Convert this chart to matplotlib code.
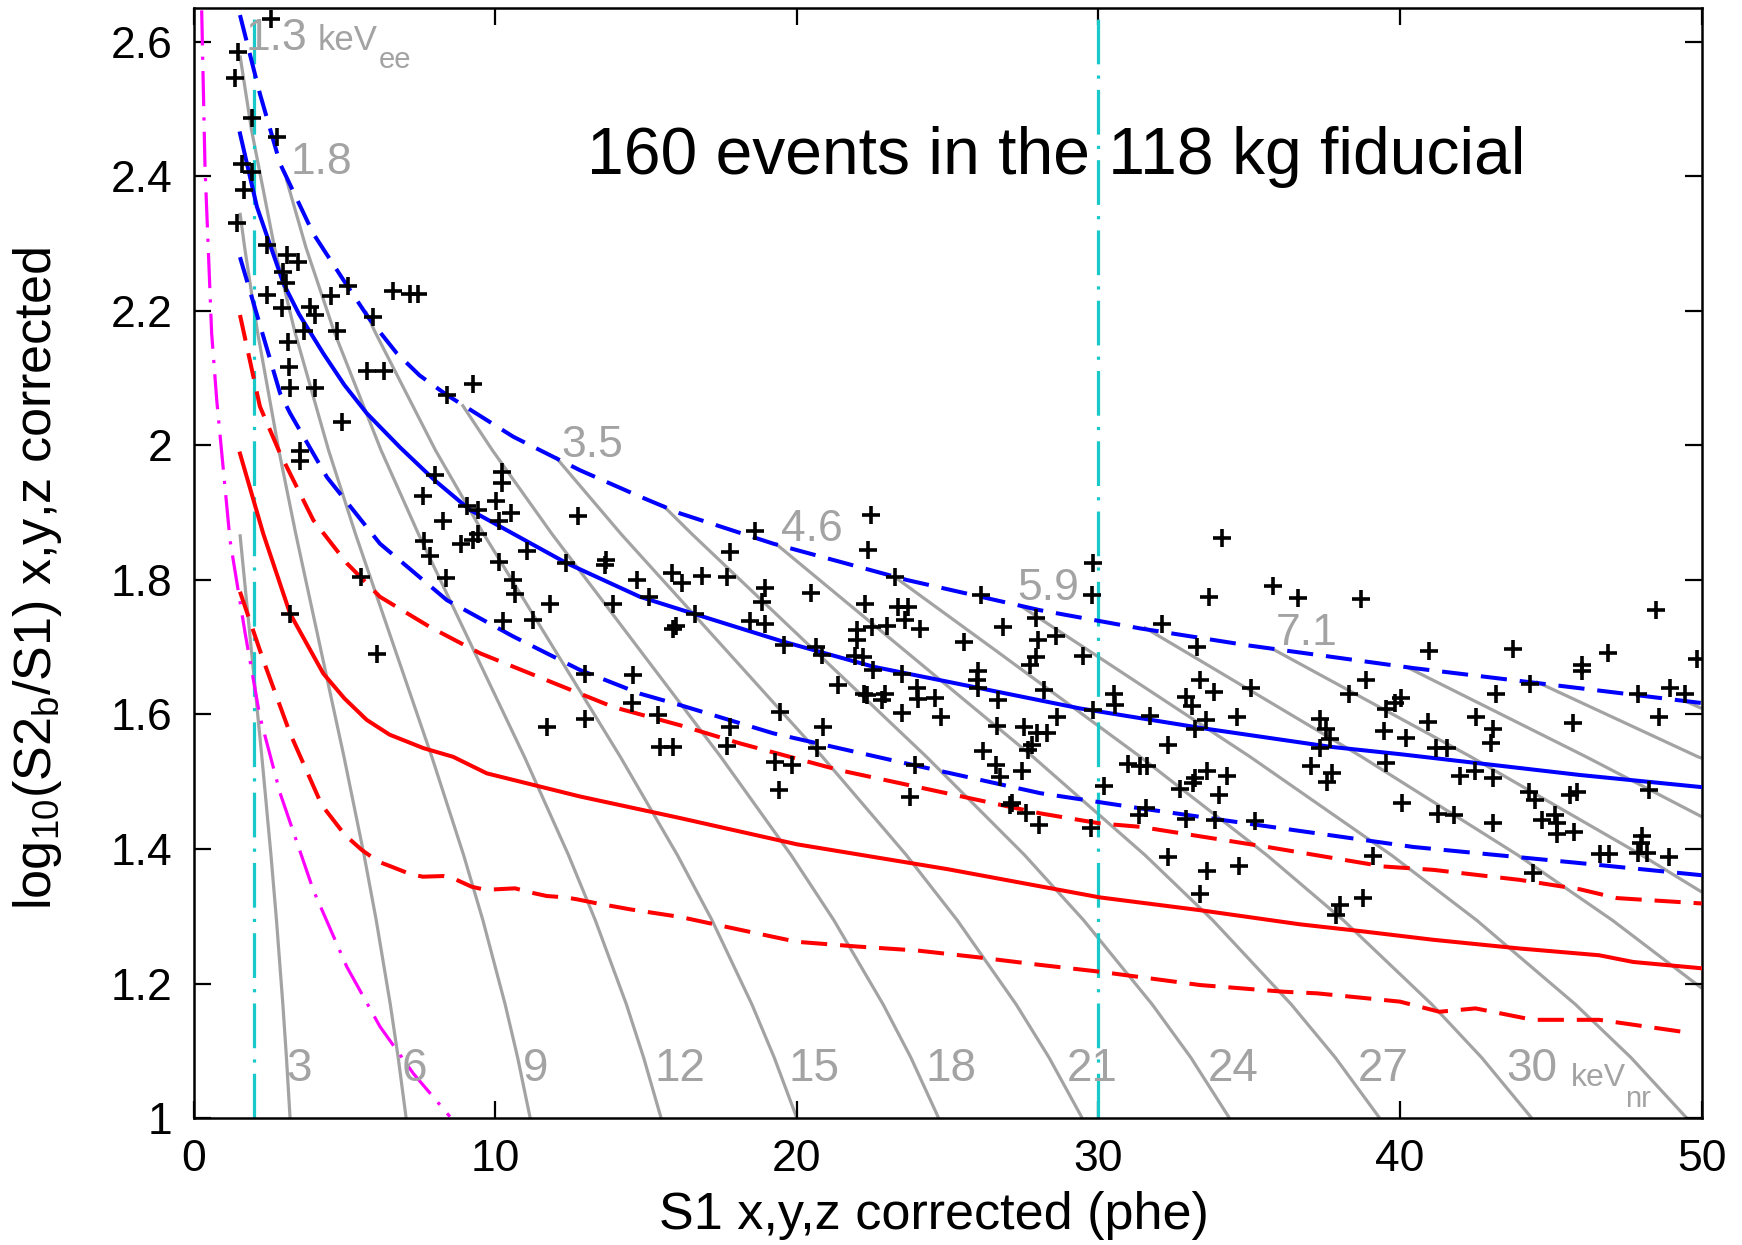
import numpy as np
import matplotlib
matplotlib.use('Agg')
import matplotlib.pyplot as plt
from matplotlib.ticker import FuncFormatter

# ---- data ----
# ER band (blue): mean and +/- lines
er_mean_s1 = [1.54, 2.1, 2.98, 3.5, 4.3, 5.0, 5.74, 6.85, 8.0, 9.17, 12.37, 14.8, 16.57, 19.5, 22.54, 25.86, 29.39, 33.54, 37.68, 40.0, 45.97, 50.0]
er_mean_y = [2.464, 2.355, 2.241, 2.195, 2.137, 2.090, 2.048, 1.997, 1.948, 1.904, 1.825, 1.775, 1.750, 1.709, 1.671, 1.641, 1.609, 1.579, 1.552, 1.541, 1.51, 1.492]
er_hi_s1 = [1.54, 2.2, 2.87, 3.97, 4.97, 5.8, 6.74, 7.5, 8.4, 10.6, 12.82, 14.8, 16.13, 19.22, 23.65, 28.07, 31.38, 34.92, 40.44, 45.97, 50.0]
er_hi_y = [2.64, 2.523, 2.419, 2.315, 2.246, 2.190, 2.137, 2.104, 2.075, 2.013, 1.963, 1.924, 1.899, 1.854, 1.800, 1.755, 1.728, 1.703, 1.669, 1.639, 1.617]
er_lo_s1 = [1.54, 2.87, 3.2, 4.42, 6.18, 8.4, 10.6, 12.82, 14.8, 16.13, 19.22, 23.65, 28.07, 31.38, 34.92, 40.44, 45.97, 50.0]
er_lo_y = [2.28, 2.0775, 2.048, 1.953, 1.854, 1.770, 1.716, 1.666, 1.631, 1.614, 1.572, 1.527, 1.483, 1.4605, 1.438, 1.403, 1.379, 1.361]

# NR band (red): mean and +/- lines
nr_mean_s1 = [1.54, 2.31, 3.2, 4.3, 5.0, 5.74, 6.5, 7.62, 8.61, 9.72, 12.82, 16.13, 20.0, 25.0, 30.05, 33.37, 36.68, 38.67, 41.1, 43.98, 46.6, 47.73, 50.0]
nr_mean_y = [1.988, 1.869, 1.750, 1.661, 1.624, 1.592, 1.570, 1.550, 1.537, 1.5125, 1.478, 1.446, 1.407, 1.370, 1.328, 1.309, 1.288, 1.278, 1.265, 1.252, 1.242, 1.232, 1.2226]
nr_hi_s1 = [1.54, 2.2, 2.87, 3.97, 5.08, 6.18, 7.84, 9.5, 11.71, 13.92, 16.13, 18.12, 21.43, 24.75, 28.07, 30.05, 31.38, 35.6, 39.45, 41.1, 43.98, 45.97, 47.19, 50.0]
nr_hi_y = [2.194, 2.058, 1.988, 1.889, 1.825, 1.775, 1.730, 1.691, 1.651, 1.611, 1.584, 1.557, 1.517, 1.485, 1.453, 1.438, 1.433, 1.403, 1.374, 1.369, 1.354, 1.340, 1.327, 1.319]
nr_lo_s1 = [1.54, 2.31, 3.2, 4.25, 5.02, 5.58, 6.13, 6.57, 7.18, 7.60, 8.28, 8.61, 9.22, 9.61, 10.0, 10.66, 11.21, 11.71, 12.32, 12.71, 13.37, 14.47,
            16.13, 18.0, 20.0, 22.0, 24.0, 26.0, 28.0, 30.05, 33.37, 36.13, 37.24, 38.9, 40.0, 41.3, 42.5, 44.4, 46.6, 49.7]
nr_lo_y = [1.7825, 1.681, 1.572, 1.4654, 1.4208, 1.3985, 1.3811, 1.3736, 1.3628, 1.3588, 1.3598, 1.3564, 1.3439, 1.340, 1.340, 1.3415, 1.335, 1.3301, 1.3281, 1.3252, 1.3192, 1.3103,
           1.299, 1.281, 1.262, 1.255, 1.249, 1.239, 1.228, 1.2175, 1.1977, 1.1878, 1.1854, 1.178, 1.173, 1.158, 1.163, 1.146, 1.146, 1.126]

# magenta threshold curve
thr_s1 = [0.27, 0.38, 0.6, 0.77, 1.21, 1.71, 2.2, 2.87, 3.97, 5.08, 6.18, 7.29, 8.5]
thr_y = [2.647, 2.414, 2.167, 2.067, 1.859, 1.721, 1.597, 1.483, 1.339, 1.225, 1.136, 1.066, 1.002]

# S1 analysis window
s1_window = [2, 30]

# constant-energy contours (gray), labelled in keVnr
contour_kevnr = [3, 6, 9, 12, 15, 18, 21, 24, 27, 30, 33, 36, 39, 42, 45, 48]
contour_s1 = [
    [1.54, 1.925, 2.265, 2.567, 2.75, 2.961, 3.08, 3.2],
    [1.54, 1.696, 2.12, 2.827, 3.392, 4.24, 4.988, 5.653, 6.057, 6.523, 6.784, 7.048],
    [1.54, 1.919, 2.686, 3.358, 4.476, 5.372, 6.715, 7.9, 8.953, 9.593, 10.33, 10.744, 11.16],
    [3.07, 3.73, 4.663, 6.216, 7.46, 9.325, 10.97, 12.43, 13.32, 14.35, 14.92, 15.5],
    [5.7, 6.015, 8.019, 9.624, 12.03, 14.15, 16.04, 17.19, 18.51, 19.25, 20.0],
    [8.9, 9.906, 11.89, 14.86, 17.48, 19.81, 21.23, 22.86, 23.78, 24.7],
    [12.0, 14.18, 17.73, 20.85, 23.63, 25.32, 27.27, 28.36, 29.46],
    [15.56, 16.53, 20.66, 24.3, 27.55, 29.51, 31.78, 33.06, 34.34],
    [19.3, 23.66, 27.83, 31.54, 33.79, 36.39, 37.85, 39.32],
    [23.2, 26.69, 31.39, 35.58, 38.12, 41.05, 42.7, 44.36],
    [27.4, 29.78, 35.03, 39.71, 42.54, 45.81, 47.65, 49.5],
    [31.5, 32.93, 38.73, 43.9, 47.04, 50.0],
    [35.75, 42.35, 48.0, 50.0],
    [40.2, 46.17, 50.0],
    [44.5, 49.88, 50.0],
    [49.5, 50.0],
]
contour_logr = [
    [1.868, 1.692, 1.537, 1.391, 1.294, 1.169, 1.09, 1.0],
    [2.346, 2.294, 2.169, 1.993, 1.868, 1.692, 1.537, 1.391, 1.294, 1.169, 1.09, 1.0],
    [2.58, 2.47, 2.294, 2.169, 1.993, 1.868, 1.692, 1.537, 1.391, 1.294, 1.169, 1.09, 1.0],
    [2.397, 2.294, 2.169, 1.993, 1.868, 1.692, 1.537, 1.391, 1.294, 1.169, 1.09, 1.0],
    [2.2, 2.169, 1.993, 1.868, 1.692, 1.537, 1.391, 1.294, 1.169, 1.09, 1.0],
    [2.061, 1.993, 1.868, 1.692, 1.537, 1.391, 1.294, 1.169, 1.09, 1.0],
    [1.983, 1.868, 1.692, 1.537, 1.391, 1.294, 1.169, 1.09, 1.0],
    [1.911, 1.868, 1.692, 1.537, 1.391, 1.294, 1.169, 1.09, 1.0],
    [1.854, 1.692, 1.537, 1.391, 1.294, 1.169, 1.09, 1.0],
    [1.806, 1.692, 1.537, 1.391, 1.294, 1.169, 1.09, 1.0],
    [1.762, 1.692, 1.537, 1.391, 1.294, 1.169, 1.09, 1.0],
    [1.73, 1.692, 1.537, 1.391, 1.294, 1.193],
    [1.698, 1.537, 1.391, 1.336],
    [1.671, 1.537, 1.448],
    [1.649, 1.537, 1.535],
    [1.619, 1.609],
]
kevee_labels = ['1.3', '1.8', '3.5', '4.6', '5.9', '7.1']
kevnr_labels = ['3', '6', '9', '12', '15', '18', '21', '24', '27', '30']

# events
ev_s1 = [2.56, 1.47, 1.39, 1.93, 2.78, 1.60, 1.93, 1.67, 1.45, 2.45, 3.11, 3.47, 2.98, 3.07, 2.45, 2.92, 3.86, 4.03, 4.56, 5.11,
         3.66, 4.75, 3.14, 6.62, 7.18, 7.45, 5.96, 3.17, 5.74, 6.32, 3.20, 4.03, 8.40, 9.26, 4.91,
         3.53, 3.53, 8.01, 10.22, 10.22, 7.60, 10.03, 9.08, 9.44, 10.53, 10.14, 8.26, 12.76, 9.42, 9.28, 8.86, 7.64, 7.84,
         11.05, 10.14, 12.35, 13.68, 13.65, 14.69, 15.86, 8.36, 5.55, 10.60, 15.11, 10.66, 13.92, 11.82, 10.27, 11.27,
         16.0, 15.9, 3.20, 6.07, 12.98, 14.56, 14.53, 15.39, 12.98, 11.71, 15.47, 15.91,
         16.19, 16.85, 17.68, 17.77, 18.62, 22.45, 22.37, 18.95, 18.84, 20.47, 23.26, 22.26, 23.37, 23.70, 18.45, 18.95,
         16.63, 21.99, 22.49, 22.98, 23.59, 24.09, 26.10, 27.93, 29.81, 29.78, 26.85, 27.98, 28.60, 27.93, 27.74, 29.48,
         25.55, 19.59, 20.63, 20.83, 21.38, 22.01, 21.93, 22.21, 22.52, 23.50, 22.23, 22.32, 22.93, 22.82, 23.48, 24.0,
         24.03, 24.59, 24.78, 25.99, 25.97, 26.02, 26.66, 26.63, 28.20, 28.64, 27.54, 27.96, 28.29, 27.79, 27.68, 29.83,
         30.52, 30.55, 26.17, 26.61, 26.72, 27.46, 27.13, 27.07, 27.60, 28.04, 29.75, 30.17, 30.97, 31.38, 31.62, 31.33,
         23.92, 23.76, 20.86, 20.68, 19.45, 17.79, 17.70, 19.28, 19.83, 19.42,
         34.09, 33.65, 35.78, 36.61, 38.71, 32.10, 33.26, 40.97, 43.74, 33.35, 35.05, 33.84, 32.91, 33.10, 31.71, 34.59,
         33.57, 33.21, 32.29, 33.59, 33.2, 33.15, 34.26, 32.71, 34.01, 31.58, 32.91, 33.85, 35.20, 32.29, 33.61, 34.67,
         33.37, 37.35, 37.55, 37.68, 37.33, 37.04, 37.74, 37.57, 38.32, 38.87, 39.54, 40.03, 39.84, 39.45, 40.20, 40.91,
         41.2, 41.55, 39.54, 42.52, 43.08, 43.0, 43.19, 44.31, 41.99, 42.49, 43.08, 40.06, 41.24, 41.77, 43.08, 39.10,
         44.42, 38.01, 37.88, 38.77, 44.26, 44.48, 44.70, 45.14, 45.20, 45.20, 45.75, 45.73, 45.64, 45.86,
         48.49, 46.89, 46.03, 46.03, 49.84, 47.87, 48.96, 49.45, 48.57, 48.24, 46.63, 46.91, 48.02, 47.98, 47.87, 48.18, 48.90]
ev_logr = [2.634, 2.585, 2.547, 2.487, 2.459, 2.418, 2.407, 2.380, 2.331, 2.298, 2.283, 2.273, 2.258, 2.242, 2.224, 2.204, 2.206, 2.194, 2.223, 2.237,
           2.170, 2.170, 2.154, 2.230, 2.225, 2.225, 2.191, 2.116, 2.111, 2.111, 2.085, 2.085, 2.075, 2.092, 2.035,
           1.992, 1.977, 1.956, 1.961, 1.944, 1.925, 1.918, 1.910, 1.904, 1.900, 1.887, 1.887, 1.895, 1.869, 1.860, 1.853, 1.858, 1.835,
           1.843, 1.827, 1.826, 1.830, 1.822, 1.800, 1.810, 1.803, 1.805, 1.800, 1.775, 1.779, 1.765, 1.764, 1.739, 1.740,
           1.731, 1.727, 1.750, 1.690, 1.660, 1.659, 1.617, 1.599, 1.593, 1.582, 1.552, 1.552,
           1.795, 1.806, 1.804, 1.842, 1.873, 1.897, 1.845, 1.788, 1.768, 1.781, 1.804, 1.764, 1.760, 1.760, 1.739, 1.735,
           1.750, 1.726, 1.730, 1.731, 1.740, 1.727, 1.778, 1.743, 1.825, 1.778, 1.730, 1.711, 1.717, 1.685, 1.674, 1.687,
           1.708, 1.703, 1.701, 1.688, 1.644, 1.711, 1.687, 1.686, 1.666, 1.660, 1.631, 1.629, 1.631, 1.622, 1.602, 1.639,
           1.623, 1.624, 1.597, 1.664, 1.651, 1.639, 1.622, 1.583, 1.637, 1.597, 1.581, 1.572, 1.572, 1.555, 1.547, 1.607,
           1.631, 1.614, 1.545, 1.525, 1.507, 1.516, 1.468, 1.465, 1.454, 1.436, 1.431, 1.493, 1.527, 1.523, 1.523, 1.451,
           1.525, 1.477, 1.581, 1.550, 1.604, 1.582, 1.553, 1.530, 1.525, 1.487,
           1.863, 1.774, 1.791, 1.773, 1.772, 1.735, 1.701, 1.695, 1.698, 1.652, 1.640, 1.634, 1.626, 1.613, 1.598, 1.596,
           1.592, 1.578, 1.555, 1.516, 1.506, 1.498, 1.509, 1.489, 1.481, 1.461, 1.444, 1.443, 1.442, 1.388, 1.368, 1.374,
           1.333, 1.593, 1.578, 1.563, 1.550, 1.523, 1.513, 1.500, 1.631, 1.652, 1.608, 1.624, 1.617, 1.576, 1.565, 1.589,
           1.550, 1.550, 1.528, 1.596, 1.578, 1.557, 1.631, 1.645, 1.508, 1.516, 1.506, 1.469, 1.452, 1.451, 1.439, 1.389,
           1.365, 1.317, 1.302, 1.327, 1.485, 1.473, 1.443, 1.451, 1.438, 1.423, 1.426, 1.587, 1.480, 1.485,
           1.756, 1.691, 1.674, 1.664, 1.682, 1.630, 1.639, 1.630, 1.597, 1.487, 1.393, 1.393, 1.419, 1.409, 1.394, 1.394, 1.388]

# ---- plot ----
plt.rcParams['font.family'] = ['Liberation Sans', 'DejaVu Sans']
plt.rcParams['mathtext.fontset'] = 'custom'
plt.rcParams['mathtext.rm'] = 'Liberation Sans'

fig = plt.figure(figsize=(17.42, 12.45), dpi=100)
ax = fig.add_axes([0.1111, 0.1020, 0.8658, 0.8913])

gray = '#a3a3a3'
for xs, ys in zip(contour_s1, contour_logr):
    ax.plot(xs, ys, color=gray, lw=2.3, zorder=1, solid_capstyle='butt')

for xv in s1_window:
    ax.axvline(xv, color='#19c8c8', lw=2.3, ls=(0, (14, 3.5, 1, 3.5)), zorder=2)

ax.plot(thr_s1, thr_y, color='#ff00ff', lw=2.3, ls=(0, (11, 3.5, 1, 3.5)), zorder=2)

dash = (0, (6.5, 3.2))
lw_band = 2.9
ax.plot(nr_mean_s1, nr_mean_y, color='#ff0000', lw=lw_band, zorder=3)
ax.plot(nr_hi_s1, nr_hi_y, color='#ff0000', lw=lw_band, ls=dash, zorder=3)
ax.plot(nr_lo_s1, nr_lo_y, color='#ff0000', lw=lw_band, ls=dash, zorder=3)
ax.plot(er_mean_s1, er_mean_y, color='#0000ff', lw=lw_band, zorder=3)
ax.plot(er_hi_s1, er_hi_y, color='#0000ff', lw=lw_band, ls=dash, zorder=3)
ax.plot(er_lo_s1, er_lo_y, color='#0000ff', lw=lw_band, ls=dash, zorder=3)

ax.plot(ev_s1, ev_logr, '+', color='k', ms=12.5, mew=2.6, zorder=5)

# energy labels
ee_pos = [(1.72, 2.588), (3.23, 2.403), (12.18, 1.983), (19.47, 1.858), (27.32, 1.770), (35.87, 1.704)]
for lab, (px, py) in zip(kevee_labels, ee_pos):
    ax.text(px, py, lab, color=gray, fontsize=32, va='baseline', ha='left', zorder=4)
ax.text(4.1, 2.588, 'keV', color=gray, fontsize=25, va='baseline', ha='left', zorder=4)
ax.text(6.15, 2.562, 'ee', color=gray, fontsize=21, va='baseline', ha='left', zorder=4)

nr_pos = [3.09, 6.89, 10.93, 15.28, 19.73, 24.26, 28.94, 33.62, 38.59, 43.53]
for lab, px in zip(kevnr_labels, nr_pos):
    ax.text(px, 1.055, lab, color=gray, fontsize=33, va='baseline', ha='left', zorder=4)
ax.text(45.65, 1.048, 'keV', color=gray, fontsize=23, va='baseline', ha='left', zorder=4)
ax.text(47.45, 1.017, 'nr', color=gray, fontsize=21, va='baseline', ha='left', zorder=4)

ax.text(13.03, 2.403, '160 events in the 118 kg fiducial', color='k', fontsize=47.5,
        va='baseline', ha='left', zorder=6)

ax.set_xlim(0, 50)
ax.set_ylim(1, 2.65)
ax.set_xticks([0, 10, 20, 30, 40, 50])
ax.set_yticks([1, 1.2, 1.4, 1.6, 1.8, 2, 2.2, 2.4, 2.6])
ax.yaxis.set_major_formatter(FuncFormatter(lambda v, p: '%g' % round(v, 2)))
ax.tick_params(direction='in', length=12, width=1.6, top=True, right=True,
               labelsize=32, pad=15)
for sp in ax.spines.values():
    sp.set_linewidth(1.8)

ax.set_xlabel('S1 x,y,z corrected (phe)', fontsize=37.5)
ax.set_ylabel('log$_{\\mathregular{10}}$(S2$_{\\mathregular{b}}$/S1) x,y,z corrected', fontsize=37.5)
ax.xaxis.set_label_coords(0.491, -0.066)
ax.yaxis.set_label_coords(-0.0856, 0.4866)

fig.savefig('out.png', dpi=100)
